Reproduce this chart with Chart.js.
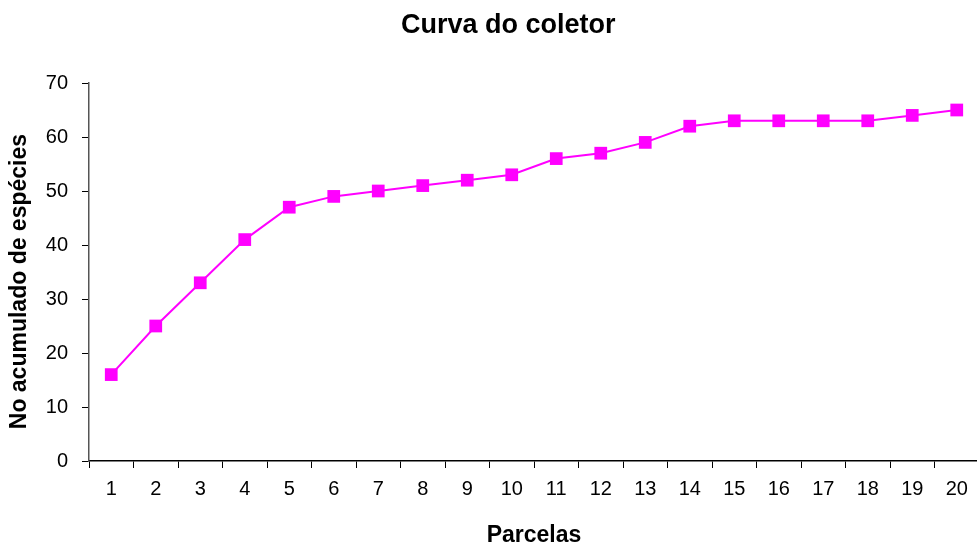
<!DOCTYPE html>
<html>
<head>
<meta charset="utf-8">
<script src="https://cdn.jsdelivr.net/npm/chart.js@4/dist/chart.umd.min.js"></script>
<style>
html,body{margin:0;padding:0;overflow:hidden;background:#fff;width:977px;height:545px;}
#wrap{position:absolute;left:0;top:0;width:988px;height:545px;}
</style>
</head>
<body>
<div id="wrap"><canvas id="c" width="988" height="545"></canvas></div>
<script>
const categories = ['1','2','3','4','5','6','7','8','9','10','11','12','13','14','15','16','17','18','19','20'];
const speciesCount = [16,25,33,41,47,49,50,51,52,53,56,57,59,62,63,63,63,63,64,65];
const yTicks = [0,10,20,30,40,50,60,70];
const chartTitle = 'Curva do coletor';
const xTitle = 'Parcelas';
const yTitle = 'No acumulado de espécies';

const FONT = "'Liberation Sans', Arial, sans-serif";
new Chart(document.getElementById('c'), {
  type: 'line',
  data: {
    labels: categories,
    datasets: [{
      data: speciesCount,
      borderColor: '#FF00FF',
      backgroundColor: '#FF00FF',
      borderWidth: 2,
      tension: 0,
      pointStyle: 'rect',
      pointRadius: 9,
      pointBorderWidth: 0,
      pointHoverRadius: 9,
      fill: false
    }]
  },
  options: {
    responsive: false,
    animation: false,
    layout: { padding: { left: 6, right: 0, top: 0, bottom: 0 } },
    plugins: {
      legend: { display: false },
      tooltip: { enabled: false },
      title: {
        display: true,
        text: '\u00A0\u00A0\u00A0' + chartTitle,
        color: '#000',
        font: { family: FONT, size: 27, weight: 'bold', lineHeight: 1.2 },
        padding: { top: 9, bottom: 41.6 }
      }
    },
    scales: {
      x: {
        type: 'category',
        offset: true,
        grid: { offset: true, drawOnChartArea: false, drawTicks: true, tickLength: 7, color: '#000', lineWidth: 1 },
        border: { display: true, color: '#000', width: 1.5 },
        ticks: { color: '#000', font: { family: FONT, size: 20, lineHeight: 1.2 }, padding: 9, maxRotation: 0, autoSkip: false },
        title: { display: true, text: xTitle, color: '#000', font: { family: FONT, size: 23, weight: 'bold', lineHeight: 0.8 }, padding: { top: 0, bottom: 0 } },
        afterFit: (s) => { s.height = 84; }
      },
      y: {
        min: 0, max: 70,
        afterBuildTicks: (s) => { s.ticks = yTicks.map(v => ({ value: v })); },
        grid: { drawOnChartArea: false, drawTicks: true, tickLength: 7, color: '#000', lineWidth: 1 },
        border: { display: true, color: '#555', width: 1.5 },
        ticks: { color: '#000', font: { family: FONT, size: 20 }, padding: 14 },
        title: { display: true, text: yTitle + '\u00A0\u00A0\u00A0', color: '#000', font: { family: FONT, size: 23, weight: 'bold', lineHeight: 1.0 }, padding: { top: 2, bottom: 0 } },
        afterFit: (s) => { s.width = 83; }
      }
    }
  }
});
</script>
</body>
</html>
